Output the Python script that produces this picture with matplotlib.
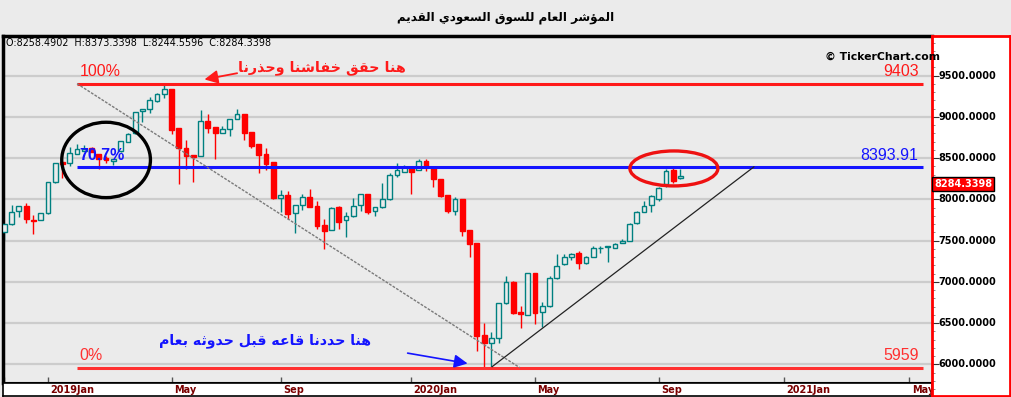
import numpy as np
import matplotlib
matplotlib.use("Agg")
import matplotlib.pyplot as plt
import matplotlib.transforms as mtransforms
from matplotlib.patches import Ellipse

# weekly candles, Nov 2018 -> Sep 2020
opens = [7601, 7698, 7856, 7920, 7750, 7746, 7831, 8207, 8453, 8438,
         8554, 8590, 8620, 8550, 8500, 8470, 8587, 8700, 8801, 9068,
         9093, 9190, 9278, 9339, 8862, 8623, 8538, 8523, 8950, 8874,
         8801, 8850, 8975, 9036, 8821, 8672, 8550, 8453, 8013, 8053,
         7831, 7928, 8025, 7920, 7689, 7629, 7904, 7750, 7795, 7928,
         8066, 7856, 7904, 8001, 8292, 8335, 8384, 8356, 8466, 8377,
         8244, 8050, 7863, 8005, 7629, 7468, 6355, 6255, 6315, 6740,
         7000, 6630, 6598, 7104, 6631, 6707, 7043, 7213, 7298, 7346,
         7225, 7298, 7407, 7426, 7414, 7468, 7499, 7717, 7843, 7932,
         8001, 8183, 8356, 8258.4902]
highs = [7700, 7928, 7916, 7960, 7811, 7835, 8215, 8445, 8453, 8639,
         8668, 8656, 8640, 8555, 8525, 8495, 8712, 8800, 9065, 9095,
         9245, 9290, 9403, 9339, 8862, 8720, 8540, 9084, 9035, 8880,
         8890, 8975, 9096, 9036, 8821, 8672, 8623, 8453, 8114, 8102,
         7935, 8065, 8122, 7984, 7759, 7905, 7925, 7851, 8013, 8065,
         8066, 7910, 8202, 8316, 8438, 8417, 8390, 8486, 8490, 8380,
         8244, 8050, 8033, 8005, 7629, 7468, 6497, 6395, 6745, 7071,
         7010, 6707, 7110, 7104, 6752, 7075, 7334, 7334, 7345, 7378,
         7310, 7435, 7438, 7440, 7470, 7516, 7710, 7863, 7984, 8050,
         8145, 8370, 8389, 8373.3398]
lows = [7508, 7690, 7790, 7717, 7580, 7746, 7825, 8200, 8263, 8409,
        8550, 8585, 8575, 8372, 8445, 8417, 8580, 8690, 8795, 8942,
        9044, 9185, 9226, 8793, 8187, 8369, 8215, 8520, 8809, 8493,
        8801, 8772, 8970, 8720, 8627, 8324, 8356, 8008, 7847, 7766,
        7589, 7871, 7905, 7641, 7395, 7625, 7641, 7548, 7790, 7863,
        7819, 7802, 7900, 7995, 8268, 8330, 8065, 8350, 8348, 8154,
        8033, 7831, 7811, 7556, 7305, 6165, 5959, 5971, 6255, 6735,
        6615, 6437, 6595, 6485, 6456, 6700, 7040, 7205, 7265, 7152,
        7215, 7295, 7354, 7244, 7410, 7465, 7495, 7700, 7843, 7851,
        7975, 8154, 8195, 8244.5596]
closes = [7698, 7843, 7916, 7759, 7734, 7831, 8207, 8445, 8429, 8559,
          8607, 8612, 8578, 8490, 8478, 8490, 8708, 8793, 9063, 9092,
          9205, 9278, 9335, 8841, 8627, 8530, 8518, 8947, 8869, 8801,
          8850, 8971, 9032, 8809, 8651, 8542, 8429, 8020, 8050, 7823,
          7928, 8025, 7911, 7681, 7620, 7899, 7730, 7798, 7916, 8062,
          7851, 7904, 8001, 8296, 8356, 8389, 8335, 8466, 8396, 8244,
          8045, 7859, 8001, 7620, 7463, 6343, 6262, 6315, 6740, 6995,
          6619, 6606, 7104, 6619, 6711, 7043, 7196, 7305, 7338, 7225,
          7305, 7407, 7412, 7433, 7455, 7499, 7702, 7843, 7924, 8041,
          8135, 8348, 8227, 8284.3398]

tick_pos = [0, 6, 23, 38, 56, 73, 90, 107.3, 124.5]
tick_labels = ["", "2019Jan", "May", "Sep", "2020Jan", "May", "Sep", "2021Jan", "May"]
price_ticks = [6000, 6500, 7000, 7500, 8000, 8500, 9000, 9500]

# fibonacci style levels
fib_levels = [9403, 8393.91, 5959]
fib_left = ["100%", "70.7%", "0%"]
fib_right = ["9403", "8393.91", "5959"]
fib_colors = ["#ff1a1a", "#1414ff", "#ff3030"]
fib_x = [10.0, 126.3]

# drawn trend lines (index, value)
down_line = [(10.0, 9403), (70.9, 5959)]
up_line = [(67.1, 5971), (103.1, 8393.91)]

title = "المؤشر العام للسوق السعودي القديم"
note_top = "هنا حقق خفاشنا وحذرنا"
note_bottom = "هنا حددنا قاعه قبل حدوثه بعام"

FORMS = {
    'ء': (0xFE80, 0, 0, 0), 'آ': (0xFE81, 0xFE82, 0, 0),
    'أ': (0xFE83, 0xFE84, 0, 0), 'ؤ': (0xFE85, 0xFE86, 0, 0),
    'إ': (0xFE87, 0xFE88, 0, 0), 'ئ': (0xFE89, 0xFE8A, 0xFE8B, 0xFE8C),
    'ا': (0xFE8D, 0xFE8E, 0, 0), 'ب': (0xFE8F, 0xFE90, 0xFE91, 0xFE92),
    'ة': (0xFE93, 0xFE94, 0, 0), 'ت': (0xFE95, 0xFE96, 0xFE97, 0xFE98),
    'ث': (0xFE99, 0xFE9A, 0xFE9B, 0xFE9C), 'ج': (0xFE9D, 0xFE9E, 0xFE9F, 0xFEA0),
    'ح': (0xFEA1, 0xFEA2, 0xFEA3, 0xFEA4), 'خ': (0xFEA5, 0xFEA6, 0xFEA7, 0xFEA8),
    'د': (0xFEA9, 0xFEAA, 0, 0), 'ذ': (0xFEAB, 0xFEAC, 0, 0),
    'ر': (0xFEAD, 0xFEAE, 0, 0), 'ز': (0xFEAF, 0xFEB0, 0, 0),
    'س': (0xFEB1, 0xFEB2, 0xFEB3, 0xFEB4), 'ش': (0xFEB5, 0xFEB6, 0xFEB7, 0xFEB8),
    'ع': (0xFEC9, 0xFECA, 0xFECB, 0xFECC), 'ف': (0xFED1, 0xFED2, 0xFED3, 0xFED4),
    'ق': (0xFED5, 0xFED6, 0xFED7, 0xFED8), 'ك': (0xFED9, 0xFEDA, 0xFEDB, 0xFEDC),
    'ل': (0xFEDD, 0xFEDE, 0xFEDF, 0xFEE0), 'م': (0xFEE1, 0xFEE2, 0xFEE3, 0xFEE4),
    'ن': (0xFEE5, 0xFEE6, 0xFEE7, 0xFEE8), 'ه': (0xFEE9, 0xFEEA, 0xFEEB, 0xFEEC),
    'و': (0xFEED, 0xFEEE, 0, 0), 'ى': (0xFEEF, 0xFEF0, 0, 0),
    'ي': (0xFEF1, 0xFEF2, 0xFEF3, 0xFEF4),
}


def shape(text):
    # no shaping engine in matplotlib: pick presentation forms, then flip to visual order
    out = []
    i = 0
    while i < len(text):
        c = text[i]
        if c not in FORMS:
            out.append(c)
            i += 1
            continue
        prev = text[i - 1] if i > 0 else None
        nxt = text[i + 1] if i + 1 < len(text) else None
        jp = prev in FORMS and FORMS[prev][2] != 0 and FORMS[c][1] != 0
        if c == 'ل' and nxt == 'ا':
            out.append(chr(0xFEFC if jp else 0xFEFB))
            i += 2
            continue
        jn = nxt in FORMS and FORMS[c][2] != 0 and FORMS[nxt][1] != 0
        iso, fin, ini, med = FORMS[c]
        f = med if (jp and jn) else fin if jp else ini if jn else iso
        out.append(chr(f))
        i += 1
    return "".join(out)[::-1]


W, H = 1012, 397
BG = "#ebebeb"
TEAL = "#008080"
RED = "#ff0000"

fig = plt.figure(figsize=(W / 100, H / 100), dpi=100, facecolor=BG)

ax = fig.add_axes([3 / W, 1 - 383 / H, 929 / W, 347 / H])
ax.set_facecolor(BG)
ax.set_xlim(-0.18, 127.6)
ax.set_ylim(5773, 9981)
ax.set_yticks(price_ticks)
ax.yaxis.grid(True, color="#cccccc", lw=1.6)
ax.set_axisbelow(True)
ax.tick_params(axis="y", left=False, labelleft=False)
ax.set_xticks(tick_pos)
ax.tick_params(axis="x", direction="in", length=4, width=1, color="#555555", labelbottom=False)
ax.spines["right"].set_visible(False)
ax.spines["top"].set_linewidth(2.5)
ax.spines["left"].set_linewidth(2.5)
ax.spines["bottom"].set_linewidth(1.5)

o = np.array(opens)
h = np.array(highs)
l = np.array(lows)
c = np.array(closes)
x = np.arange(len(o))
up = c >= o
wick_col = [TEAL if u else RED for u in up]
ax.vlines(x, l, h, colors=wick_col, lw=1, zorder=2)
ax.bar(x, np.abs(c - o), bottom=np.minimum(o, c), width=0.66,
       color=[BG if u else RED for u in up], edgecolor=wick_col, lw=1, zorder=3)

# levels
for lev, lt, rt, col in zip(fib_levels, fib_left, fib_right, fib_colors):
    ax.hlines(lev, fib_x[0], fib_x[1], colors=col, lw=2.2, zorder=4)
    bold = "bold" if lt == "70.7%" else "normal"
    ax.annotate(lt, (fib_x[0], lev), xytext=(2, 3), textcoords="offset points",
                ha="left", va="bottom", color=col, fontsize=11.5, fontweight=bold,
                family="Liberation Sans", zorder=6)
    ax.annotate(rt, (fib_x[1], lev), xytext=(-3, 3), textcoords="offset points",
                ha="right", va="bottom", color=col, fontsize=11.5,
                family="Liberation Sans", zorder=6)

ax.plot(*zip(*down_line), color="#7a7a7a", lw=1, ls=(0, (2, 1)), zorder=4)
ax.plot(*zip(*up_line), color="#222222", lw=0.9, zorder=4)

ax.add_patch(Ellipse((14.0, 8478), 12.2, 914, fill=False, ec="black", lw=2.4, zorder=5))
ax.add_patch(Ellipse((92.1, 8375), 12.1, 424, fill=False, ec="#ee1111", lw=2.4, zorder=5))

ax.annotate("", xy=(27.15, 9448), xytext=(32.4, 9536),
            arrowprops=dict(arrowstyle="-|>", color="#ff1a1a", lw=1.3, mutation_scale=20), zorder=6)
ax.annotate("", xy=(64.1, 6004), xytext=(55.1, 6141),
            arrowprops=dict(arrowstyle="-|>", color="#1414ff", lw=1.2, mutation_scale=20), zorder=6)

ax.text(43.7, 9593, shape(note_top), color="#ff1a1a", fontsize=10.3, fontweight="bold",
        ha="center", va="center", family="DejaVu Sans", zorder=6)
ax.text(35.9, 6283, shape(note_bottom), color="#1414ff", fontsize=10.2, fontweight="bold",
        ha="center", va="center", family="DejaVu Sans", zorder=6)

# date strip
axx = fig.add_axes([3 / W, 1 - 396 / H, 929 / W, 13 / H])
axx.set_facecolor("white")
axx.set_xlim(ax.get_xlim())
axx.set_xticks([])
axx.set_yticks([])
for s in axx.spines.values():
    s.set_linewidth(1.2)
trans = mtransforms.blended_transform_factory(axx.transData, axx.transAxes)
for p, lab in zip(tick_pos, tick_labels):
    axx.text(p + 0.3, 0.45, lab, transform=trans, ha="left", va="center",
             fontsize=7, fontweight="bold", color="#7a0000")

# price panel
axr = fig.add_axes([932 / W, 1 - 396 / H, 78 / W, 360 / H])
axr.set_facecolor("white")
axr.set_xlim(0, 1)
axr.set_ylim(5616, 9981)
axr.set_xticks([])
axr.set_yticks(price_ticks)
axr.set_yticks(np.arange(5700, 10000, 100), minor=True)
axr.tick_params(axis="y", which="major", direction="in", length=5, color="#333333", labelleft=False)
axr.tick_params(axis="y", which="minor", direction="in", length=2.5, color="#777777")
for s in axr.spines.values():
    s.set_color("#ff0000")
    s.set_linewidth(2)
for v in price_ticks:
    axr.text(0.08, v, f"{v:.4f}", ha="left", va="center", fontsize=7, fontweight="bold", color="black")
axr.annotate(f"{closes[-1]:.4f}", (0.03, closes[-1]), xytext=(0, -6), textcoords="offset points",
             ha="left", va="center", fontsize=7, fontweight="bold", color="white",
             bbox=dict(boxstyle="square,pad=0.2", fc="#ff0000", ec="black", lw=1))

fig.text(0.5, 1 - 18 / H, shape(title), ha="center", va="center", fontsize=8.6,
         fontweight="bold", family="DejaVu Sans")
fig.text(6 / W, 1 - 43 / H,
         f"O:{opens[-1]:.4f}  H:{highs[-1]:.4f}  L:{lows[-1]:.4f}  C:{closes[-1]:.4f}",
         ha="left", va="center", fontsize=6.9, color="black")
fig.text(940 / W, 1 - 57 / H, "© TickerChart.com", ha="right", va="center",
         fontsize=7.8, fontweight="bold", color="black", zorder=10)

fig.savefig("out.png", dpi=100, facecolor=BG)
